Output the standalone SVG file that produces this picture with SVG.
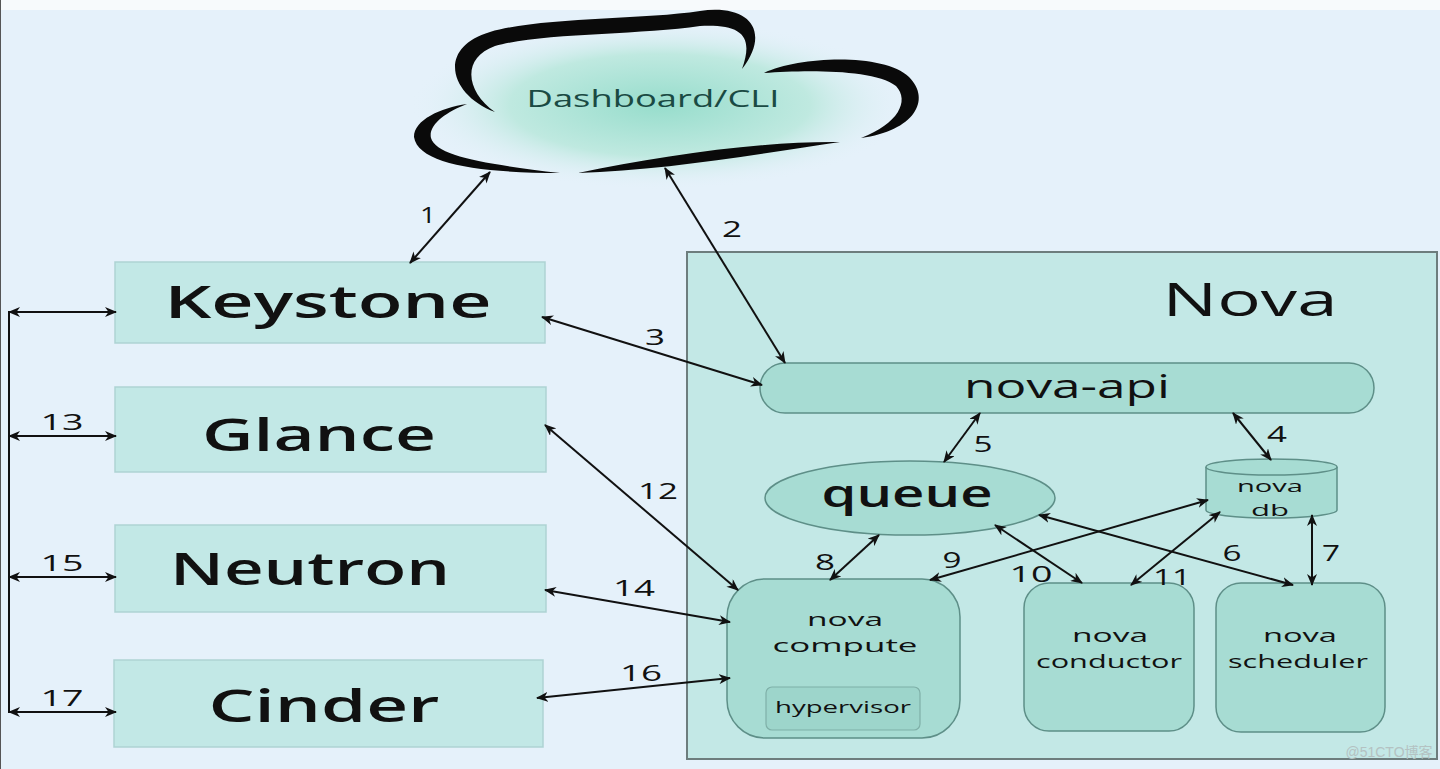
<svg xmlns="http://www.w3.org/2000/svg" width="1440" height="769" viewBox="0 0 1440 769">
<defs>
<radialGradient id="cloudFill" cx="0.5" cy="0.5" r="0.5">
<stop offset="0" stop-color="#97ddcc"/>
<stop offset="0.6" stop-color="#bfe9e0"/>
<stop offset="1" stop-color="#e5f1fa" stop-opacity="0"/>
</radialGradient>
<marker id="ah" viewBox="0 0 12 10" markerWidth="12" markerHeight="10" refX="11" refY="5" orient="auto-start-reverse" markerUnits="userSpaceOnUse">
<path d="M0,0 L12,5 L0,10 L3.5,5 Z" fill="#111"/>
</marker>
</defs>
<style>
.t{font-family:"Open Sans","Noto Sans","DejaVu Sans",sans-serif;fill:#111;text-anchor:middle}
.big{font-size:46px;font-weight:600}
.sm{font-size:19px}
.num{font-family:"Open Sans","Noto Sans",sans-serif;font-size:22px;fill:#111;text-anchor:middle}
.box{fill:#c2e8e6;stroke:#aed3d3;stroke-width:1.5}
.node{fill:#a7dcd3;stroke:#5e8f88;stroke-width:1.5}
.conn line,.conn path{stroke:#111;stroke-width:2;fill:none}
.ar{marker-start:url(#ah);marker-end:url(#ah)}
</style>
<rect x="0" y="0" width="1440" height="769" fill="#e5f1fa"/>
<rect x="0" y="0" width="1440" height="10" fill="#f7fafc"/>
<line x1="0.5" y1="0" x2="0.5" y2="769" stroke="#555" stroke-width="1"/>

<g id="cloud">
<ellipse cx="660" cy="105" rx="250" ry="85" fill="url(#cloudFill)"/>
<path d="M495,112 C450,95 436,48 490,32 C540,17 640,20 700,11 C748,4 772,30 742,69 C754,36 742,24 700,26 C640,35 540,33 495,46 C461,58 466,92 495,112 Z" fill="#0a0a0a"/>
<path d="M764,73 C800,56 884,53 909,77 C932,100 914,131 861,138 C898,124 910,101 896,86 C874,69 805,70 764,73 Z" fill="#0a0a0a"/>
<path d="M578,173 C660,156 760,141 840,142 C760,154 660,171 578,173 Z" fill="#0a0a0a"/>
<path d="M467,104 C440,108 414,120 414,137 C418,164 480,173 560,173 C485,164 436,156 431,138 C428,125 446,112 467,104 Z" fill="#0a0a0a"/>
<text x="653" y="107" font-family="'Open Sans','Noto Sans',sans-serif" font-size="24" fill="#1a4a43" text-anchor="middle" textLength="253" lengthAdjust="spacingAndGlyphs">Dashboard/CLI</text>
</g>

<g id="keystone">
<rect class="box" x="115" y="262" width="430" height="81"/>
<text class="t big" x="328" y="318" textLength="327" lengthAdjust="spacingAndGlyphs">Keystone</text>
</g>
<g id="glance">
<rect class="box" x="115" y="387" width="431" height="85"/>
<text class="t big" x="319" y="451" textLength="234" lengthAdjust="spacingAndGlyphs">Glance</text>
</g>
<g id="neutron">
<rect class="box" x="115" y="525" width="431" height="87"/>
<text class="t big" x="310" y="585" font-weight="700" textLength="280" lengthAdjust="spacingAndGlyphs">Neutron</text>
</g>
<g id="cinder">
<rect class="box" x="114" y="660" width="429" height="87"/>
<text class="t big" x="324" y="722" textLength="231" lengthAdjust="spacingAndGlyphs">Cinder</text>
</g>

<g id="nova">
<rect x="687" y="252" width="750" height="507" fill="#c3e8e6" stroke="#6d7d7d" stroke-width="2"/>
<text class="t" x="1250" y="316" font-size="46" textLength="175" lengthAdjust="spacingAndGlyphs">Nova</text>
</g>
<g id="nova-api">
<rect class="node" x="760" y="363" width="614" height="50" rx="25"/>
<text class="t" x="1067" y="398" font-size="32" textLength="206" lengthAdjust="spacingAndGlyphs">nova-api</text>
</g>
<g id="queue">
<ellipse class="node" cx="910" cy="498" rx="145" ry="37"/>
<text class="t" x="907" y="507" font-size="38" font-weight="600" textLength="171" lengthAdjust="spacingAndGlyphs">queue</text>
</g>
<g id="nova-db">
<path class="node" d="M1206,467 L1206,510 A65.5,8 0 0 0 1337,510 L1337,467"/>
<ellipse class="node" cx="1271.5" cy="467" rx="65.5" ry="8"/>
<text class="t" x="1270" y="492" font-size="17" textLength="66" lengthAdjust="spacingAndGlyphs">nova</text>
<text class="t" x="1270" y="516" font-size="17" textLength="38" lengthAdjust="spacingAndGlyphs">db</text>
</g>
<g id="nova-compute">
<rect class="node" x="727" y="579" width="233" height="159" rx="38"/>
<text class="t sm" x="845" y="626" textLength="76" lengthAdjust="spacingAndGlyphs">nova</text>
<text class="t sm" x="845" y="652" textLength="145" lengthAdjust="spacingAndGlyphs">compute</text>
<rect x="766" y="687" width="154" height="43" rx="6" fill="#9dd5cb" stroke="#7fb0a8" stroke-width="1.2"/>
<text class="t" x="843" y="713" font-size="17" textLength="136" lengthAdjust="spacingAndGlyphs">hypervisor</text>
</g>
<g id="nova-conductor">
<rect class="node" x="1024" y="583" width="170" height="148" rx="25"/>
<text class="t sm" x="1110" y="642" textLength="76" lengthAdjust="spacingAndGlyphs">nova</text>
<text class="t sm" x="1109" y="668" textLength="146" lengthAdjust="spacingAndGlyphs">conductor</text>
</g>
<g id="nova-scheduler">
<rect class="node" x="1216" y="583" width="169" height="149" rx="25"/>
<text class="t sm" x="1300" y="642" textLength="74" lengthAdjust="spacingAndGlyphs">nova</text>
<text class="t sm" x="1298" y="668" textLength="140" lengthAdjust="spacingAndGlyphs">scheduler</text>
</g>

<g id="connectors" class="conn">
<line class="ar" x1="490" y1="172" x2="410" y2="263"/>
<line class="ar" x1="665" y1="168" x2="785" y2="363"/>
<line class="ar" x1="542" y1="317" x2="762" y2="385"/>
<line class="ar" x1="1233" y1="413" x2="1271" y2="460"/>
<line class="ar" x1="980" y1="413" x2="944" y2="462"/>
<line class="ar" x1="1039" y1="515" x2="1293" y2="585"/>
<line class="ar" x1="1312" y1="515" x2="1312" y2="585"/>
<line class="ar" x1="879" y1="535" x2="830" y2="580"/>
<line class="ar" x1="1208" y1="500" x2="930" y2="580"/>
<line class="ar" x1="995" y1="525" x2="1082" y2="583"/>
<line class="ar" x1="1220" y1="512" x2="1131" y2="585"/>
<line class="ar" x1="545" y1="425" x2="738" y2="590"/>
<line class="ar" x1="545" y1="590" x2="730" y2="622"/>
<line class="ar" x1="537" y1="698" x2="730" y2="678"/>
<line x1="9" y1="311" x2="9" y2="713"/>
<line class="ar" x1="9" y1="312" x2="116" y2="312"/>
<line class="ar" x1="9" y1="436" x2="116" y2="436"/>
<line class="ar" x1="9" y1="577" x2="116" y2="577"/>
<line class="ar" x1="9" y1="712" x2="116" y2="712"/>
</g>

<g id="labels">
<text class="num" x="428" y="223" textLength="16" lengthAdjust="spacingAndGlyphs">1</text>
<text class="num" x="732" y="237" textLength="20" lengthAdjust="spacingAndGlyphs">2</text>
<text class="num" x="655" y="345" textLength="20" lengthAdjust="spacingAndGlyphs">3</text>
<text class="num" x="1277" y="442" textLength="20" lengthAdjust="spacingAndGlyphs">4</text>
<text class="num" x="983" y="452" textLength="19" lengthAdjust="spacingAndGlyphs">5</text>
<text class="num" x="1232" y="561" textLength="19" lengthAdjust="spacingAndGlyphs">6</text>
<text class="num" x="1331" y="561" textLength="18" lengthAdjust="spacingAndGlyphs">7</text>
<text class="num" x="825" y="570" textLength="20" lengthAdjust="spacingAndGlyphs">8</text>
<text class="num" x="952" y="568" textLength="19" lengthAdjust="spacingAndGlyphs">9</text>
<text class="num" x="1031" y="582" textLength="43" lengthAdjust="spacingAndGlyphs">10</text>
<text class="num" x="1172" y="585" textLength="38" lengthAdjust="spacingAndGlyphs">11</text>
<text class="num" x="658" y="499" textLength="40" lengthAdjust="spacingAndGlyphs">12</text>
<text class="num" x="62" y="430" textLength="43" lengthAdjust="spacingAndGlyphs">13</text>
<text class="num" x="634" y="596" textLength="42" lengthAdjust="spacingAndGlyphs">14</text>
<text class="num" x="62" y="571" textLength="43" lengthAdjust="spacingAndGlyphs">15</text>
<text class="num" x="641" y="681" textLength="42" lengthAdjust="spacingAndGlyphs">16</text>
<text class="num" x="62" y="706" textLength="43" lengthAdjust="spacingAndGlyphs">17</text>
</g>

<text x="1389" y="757" font-family="'Liberation Sans','Noto Sans CJK SC',sans-serif" font-size="14" fill="#b4c2c2" text-anchor="middle">@51CTO博客</text>
</svg>
